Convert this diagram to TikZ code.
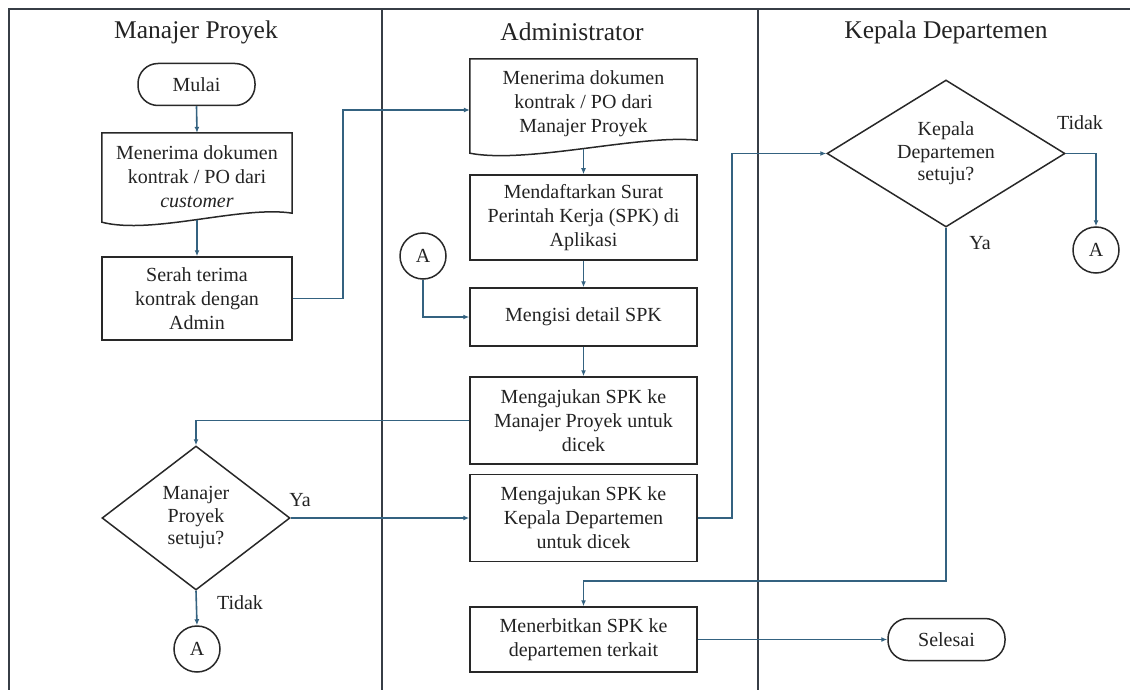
\documentclass[tikz,border=0pt]{standalone}
\usepackage{fontspec}
\setmainfont{Liberation Serif}
\usetikzlibrary{arrows.meta,shapes.geometric,calc}
\definecolor{conn}{RGB}{52,98,128}
\definecolor{lanec}{RGB}{55,62,70}
\definecolor{edgec}{RGB}{40,40,40}
\definecolor{txt}{RGB}{35,35,35}
\begin{document}
\begin{tikzpicture}[x=1pt,y=-1pt,
  font=\fontsize{20}{24}\selectfont, text=txt,
  lanes/.style={draw=lanec,line width=1.8pt},
  title/.style={font=\fontsize{25.5}{30}\selectfont},
  box/.style={draw=edgec,line width=1.5pt,rectangle,minimum width=227pt,inner sep=0pt,align=center},
  smallbox/.style={box,minimum width=190pt},
  docnode/.style={rectangle,draw=none,inner sep=0pt,align=center},
  docline/.style={draw=edgec,line width=1.5pt},
  term/.style={draw=edgec,line width=1.5pt,rectangle,rounded corners=20pt,minimum width=117pt,minimum height=42pt,inner sep=0pt},
  decision/.style={draw=edgec,line width=1.5pt,diamond,inner sep=0pt,align=center,font=\fontsize{20}{22.5}\selectfont},
  conn/.style={draw=conn,line width=1.6pt,-{Latex[length=6pt,width=5pt]}},
  connector/.style={draw=edgec,line width=1.5pt,circle,minimum size=46pt,inner sep=0pt},
  lbl/.style={inner sep=0pt}
]
\useasboundingbox (0,0) rectangle (1130,690);

% swimlane frame
\draw[lanes] (9,690) -- (9,9) -- (1130,9);
\draw[lanes] (382,9) -- (382,690);
\draw[lanes] (758,9) -- (758,690);

% titles
\node[title] (t1) at (196,32) {Manajer Proyek};
\node[title] (t2) at (572,32) {Administrator};
\node[title] (t3) at (946,32) {Kepala Departemen};

% Manajer Proyek lane
\node[term] (mulai) at (196.5,84.5) {Mulai};
\node[docnode,minimum width=190pt,minimum height=87pt] (doc1) at (197,176.5)
  {Menerima dokumen\\kontrak / PO dari\\\textit{customer}};
\draw[docline] ($(doc1.south east)+(0,-7)$) -- (doc1.north east) -- (doc1.north west)
  -- ($(doc1.south west)+(0,2)$)
  .. controls ($(doc1.south)+(-45,15)$) and ($(doc1.south)+(45,-15)$) ..
  ($(doc1.south east)+(0,-7)$) -- cycle;
\node[smallbox,minimum height=83pt] (serah) at (197,298.5) {Serah terima\\kontrak dengan\\Admin};
\node[decision,minimum width=188pt,minimum height=144pt,aspect=1.3] (mpd) at (196,518) {Manajer\\Proyek\\setuju?};
\node[connector] (Amp) at (197,649) {A};
\node[lbl] (ya1) at (300,500) {Ya};
\node[lbl] (tdk1) at (240,603) {Tidak};

% Administrator lane
\node[docnode,minimum width=227pt,minimum height=90pt] (doc2) at (583.5,104)
  {Menerima dokumen\\kontrak / PO dari\\Manajer Proyek};
\draw[docline] ($(doc2.south east)+(0,-9)$) -- (doc2.north east) -- (doc2.north west)
  -- ($(doc2.south west)+(0,4)$)
  .. controls ($(doc2.south)+(-56,15)$) and ($(doc2.south)+(56,-15)$) ..
  ($(doc2.south east)+(0,-9)$) -- cycle;
\node[box,minimum height=85pt] (daftar) at (583.5,217.5) {Mendaftarkan Surat\\Perintah Kerja (SPK) di\\Aplikasi};
\node[connector] (Aadm) at (423,256) {A};
\node[box,minimum height=58pt] (isi) at (583.5,317) {Mengisi detail SPK};
\node[box,minimum height=87pt] (ajuMP) at (583.5,420.5) {Mengajukan SPK ke\\Manajer Proyek untuk\\dicek};
\node[box,minimum height=87pt] (ajuKD) at (583.5,518) {Mengajukan SPK ke\\Kepala Departemen\\untuk dicek};
\node[box,minimum height=65pt] (terbit) at (583.5,639.5) {Menerbitkan SPK ke\\departemen terkait};

% Kepala Departemen lane
\node[decision,minimum width=238pt,minimum height=147pt,aspect=1.62] (kdd) at (946,153.5) {Kepala\\Departemen\\setuju?};
\node[connector] (Akd) at (1096,250) {A};
\node[lbl] (tdk2) at (1080,123) {Tidak};
\node[lbl] (ya2) at (980,243) {Ya};
\node[term] (selesai) at (946.5,639.5) {Selesai};

% helper coordinates
\coordinate (c1) at (343,110);
\coordinate (c2) at (732,153.5);
\coordinate (c3) at (583.5,581);

% connectors
\draw[conn] (mulai.south) -- (doc1.north);
\draw[conn] (doc1.south) -- (serah.north);
\draw[conn] (serah.east) -| (c1) -- (c1 -| doc2.west);
\draw[conn] (doc2.south) -- (daftar.north);
\draw[conn] (daftar.south) -- (isi.north);
\draw[conn] (Aadm.south) |- (isi.west);
\draw[conn] (isi.south) -- (ajuMP.north);
\draw[conn] (ajuMP.west) -| (mpd.north);
\draw[conn] (mpd.east) -- (ajuKD.west);
\draw[conn] (mpd.south) -- (Amp.north);
\draw[conn] (ajuKD.east) -| (c2) -- (kdd.west);
\draw[conn] (kdd.east) -| (Akd.north);
\draw[conn] (kdd.south) |- (c3) -- (terbit.north);
\draw[conn] (terbit.east) -- (selesai.west);
\end{tikzpicture}
\end{document}
